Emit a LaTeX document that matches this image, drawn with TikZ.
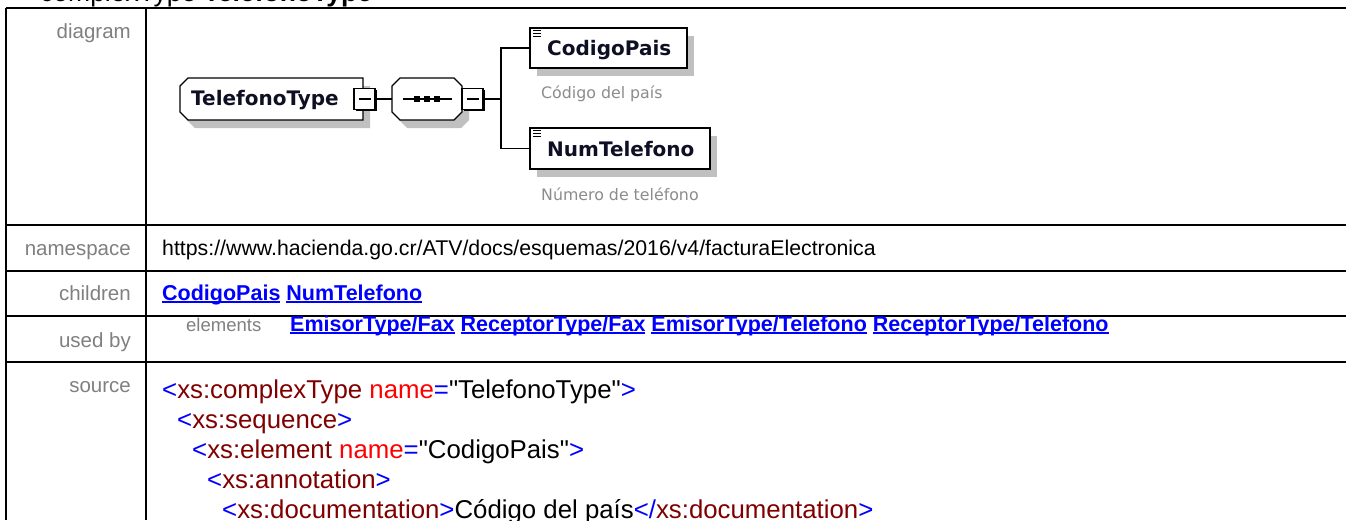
\documentclass[tikz,border=0pt]{standalone}
\usepackage{fontspec}
\setmainfont{Liberation Sans}
\newfontfamily\diafont{DejaVu Sans}
\usetikzlibrary{shadows}
\definecolor{labgray}{RGB}{128,128,128}
\definecolor{annogray}{RGB}{140,140,140}
\definecolor{linkblue}{RGB}{0,0,255}
\definecolor{xmlblue}{RGB}{0,0,255}
\definecolor{xmlred}{RGB}{128,0,0}
\definecolor{attred}{RGB}{255,0,0}
\definecolor{shadowgray}{RGB}{192,192,192}
\definecolor{dianame}{RGB}{15,15,35}
\newcommand{\myul}[1]{\setbox0\hbox{#1}\rlap{\rule[-2.6pt]{\wd0}{1.5pt}}\box0\relax}
\newcommand{\tg}[1]{\textcolor{xmlblue}{#1}}
\newcommand{\tn}[1]{\textcolor{xmlred}{#1}}
\newcommand{\ta}[1]{\textcolor{attred}{#1}}
\newcommand{\qq}{\textquotedbl}
\def\typepath{(180,86) -- (188,78) -- (363,78) -- (363,120) -- (188,120) -- (180,112) -- cycle}
\def\seqpath{(392,86) -- (400,78) -- (454,78) -- (462,86) -- (462,112) -- (454,120) -- (400,120) -- (392,112) -- cycle}
\begin{document}
\begin{tikzpicture}[x=1pt,y=-1pt,
  rowlab/.style={font=\fontsize{20.5}{24}\selectfont, text=labgray, anchor=base east, inner sep=0pt},
  cellval/.style={font=\fontsize{21.3}{24}\selectfont, anchor=base west, inner sep=0pt},
  linktext/.style={font=\fontsize{21.5}{24}\selectfont\bfseries, text=linkblue, anchor=base west, inner sep=0pt},
  codeline/.style={font=\fontsize{25.8}{30}\selectfont, anchor=base west, inner sep=0pt},
  grid/.style={line width=2pt},
  boxline/.style={line width=1.3pt, draw=black},
  anchorbox/.style={rectangle, draw=none, inner sep=0pt},
  minusbox/.style={rectangle, draw, line width=1.3pt, fill=white, minimum width=21pt, minimum height=21pt, inner sep=0pt,
    general shadow={shadow xshift=1.5pt, shadow yshift=-1.5pt, fill=black},
    path picture={\draw[line width=1.3pt] ([xshift=-6pt]path picture bounding box.center) -- ([xshift=6pt]path picture bounding box.center);}},
  elembox/.style={rectangle, draw, line width=1.3pt, fill=white, inner sep=0pt,
    general shadow={shadow xshift=7pt, shadow yshift=-8pt, fill=shadowgray}},
  dianametext/.style={font=\diafont\bfseries\fontsize{20}{22}\selectfont, text=dianame, anchor=base west, inner sep=0pt},
  anno/.style={font=\diafont\fontsize{15.8}{18}\selectfont, text=annogray, anchor=base west, inner sep=0pt},
  conn/.style={line width=1.3pt}]
\useasboundingbox (0,0) rectangle (1346,520);
\clip (0,0) rectangle (1346,520);
\fill[white] (0,0) rectangle (1346,520);

% title (cut off at top, as in the reference)
\node[anchor=base west, inner sep=0pt, font=\fontsize{26.5}{30}\selectfont] (title) at (40,1) {complexType \textbf{TelefonoType}};

% table grid
\draw[grid] (6,8) -- (1346,8);
\draw[grid] (6,8) -- (6,520);
\draw[grid] (146,8) -- (146,520);
\foreach \yy in {225,271,316,362} \draw[grid] (6,\yy) -- (1346,\yy);

% row labels
\node[rowlab] (ldiagram) at (131,38) {diagram};
\node[rowlab] (lns) at (131,255) {namespace};
\node[rowlab] (lchildren) at (131,300) {children};
\node[rowlab] (lusedby) at (131,347) {used by};
\node[rowlab] (lsource) at (131,392) {source};

% namespace
\node[cellval] (nsval) at (162,255) {https://www.hacienda.go.cr/ATV/docs/esquemas/2016/v4/facturaElectronica};

% children
\node[linktext] (children) at (162,300) {\myul{CodigoPais} \myul{NumTelefono}};

% used by
\node[anchor=base west, inner sep=0pt, font=\fontsize{18.5}{22}\selectfont, text=labgray] (elements) at (186,331) {elements};
\node[linktext] (usedby) at (290,331) {\myul{EmisorType/Fax} \myul{ReceptorType/Fax} \myul{EmisorType/Telefono} \myul{ReceptorType/Telefono}};

% source
\node[codeline] (c1) at (162,398) {\tg{<}\tn{xs:complexType} \ta{name}\tg{=}\qq TelefonoType\qq\tg{>}};
\node[codeline] (c2) at (177,428) {\tg{<}\tn{xs:sequence}\tg{>}};
\node[codeline] (c3) at (192,458) {\tg{<}\tn{xs:element} \ta{name}\tg{=}\qq CodigoPais\qq\tg{>}};
\node[codeline] (c4) at (207,488) {\tg{<}\tn{xs:annotation}\tg{>}};
\node[codeline] (c5) at (222,518) {\tg{<}\tn{xs:documentation}\tg{>}Código del país\tg{</}\tn{xs:documentation}\tg{>}};

% ---------- diagram ----------
% complexType box
\fill[shadowgray, shift={(7,8)}] \typepath;
\draw[boxline, fill=white] \typepath;
\node[anchorbox, minimum width=183pt, minimum height=42pt] (typebox) at (271.5,99) {};
\node[dianametext] (typename) at (191,105.5) {TelefonoType};
\node[minusbox] (m1) at (364.5,99) {};

% sequence box
\fill[shadowgray, shift={(7,8)}] \seqpath;
\draw[boxline, fill=white] \seqpath;
\node[anchorbox, minimum width=70pt, minimum height=42pt] (seqbox) at (427,99) {};
\draw[line width=1.2pt] (403,99) -- (452,99);
\foreach \sx in {417,427,437} \fill (\sx-2.6,96.4) rectangle (\sx+2.6,101.6);
\node[minusbox] (m2) at (472.5,99) {};

% element boxes
\node[elembox, minimum width=157pt, minimum height=40pt] (cp) at (608.5,48) {};
\node[elembox, minimum width=180pt, minimum height=41pt] (nt) at (620,148.5) {};
\foreach \bx in {cp,nt} {
  \foreach \iy in {3,5.8,8.6} \draw[line width=0.9pt] ([shift={(4,\iy)}]\bx.north west) -- ([shift={(12,\iy)}]\bx.north west);
}
\node[dianametext] (cpname) at (547,55.5) {CodigoPais};
\node[dianametext] (ntname) at (547,156.5) {NumTelefono};
\node[anno] (cpdoc) at (541,98) {Código del país};
\node[anno] (ntdoc) at (541,200) {Número de teléfono};

% connectors
\coordinate (junc) at (501,99);
\draw[conn] (m1.east) -- (seqbox.west);
\draw[conn] (m2.east) -- (junc);
\draw[conn] (junc) |- (cp.west);
\draw[conn] (junc) |- (nt.west);
\end{tikzpicture}
\end{document}
